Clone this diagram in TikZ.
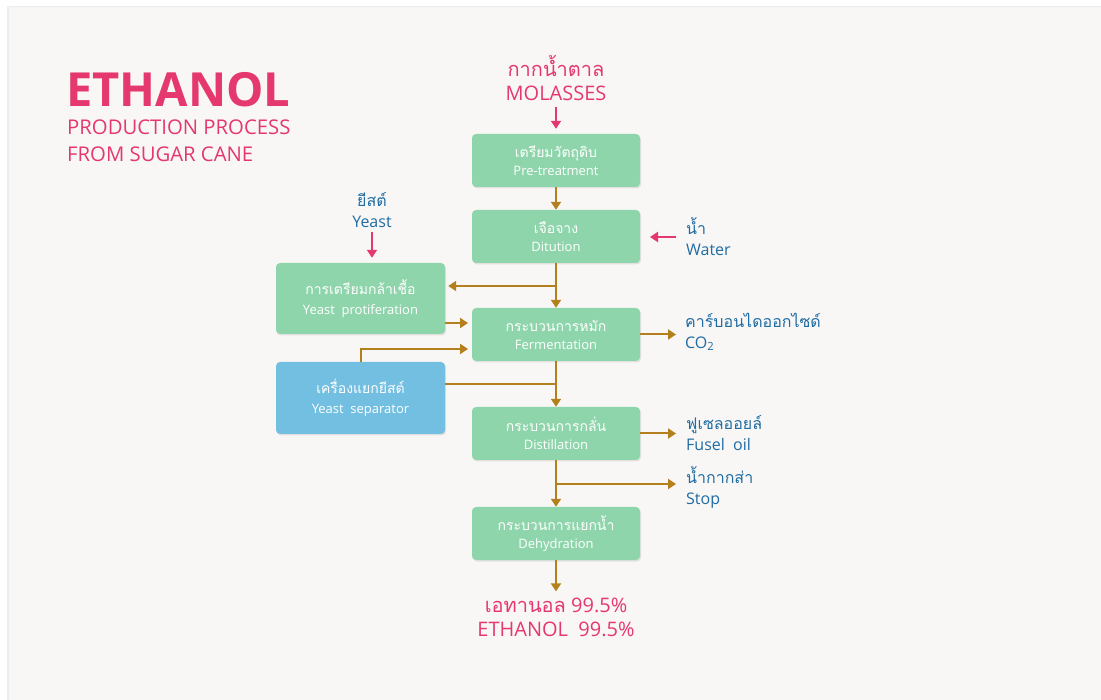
\documentclass[tikz,border=0pt]{standalone}
\usepackage{fontspec}
\setmainfont{Open Sans}
\newfontfamily\thaifont[Script=Thai]{Loma}
\usetikzlibrary{arrows.meta,positioning,shadows}
\definecolor{titlepink}{HTML}{E4386E}
\definecolor{stepgreen}{HTML}{8FD5AC}
\definecolor{sepblue}{HTML}{72BFE2}
\definecolor{flowbrown}{HTML}{B3801D}
\definecolor{sideblue}{HTML}{1F6CA3}
\definecolor{paper}{HTML}{F8F7F6}
\newcommand{\boxthai}[1]{{\thaifont\fontsize{14}{18}\selectfont #1}}

\begin{document}
\begin{tikzpicture}[x=1pt,y=-1pt,
  proc/.style={fill=stepgreen,rounded corners=4pt,minimum width=168pt,minimum height=53pt,
    text=white,align=center,inner sep=2pt,font=\fontsize{13}{18}\selectfont,
    drop shadow={opacity=0.18,shadow xshift=1pt,shadow yshift=-1.5pt}},
  flow/.style={draw=flowbrown,line width=2pt,-{Triangle[length=8pt,width=10pt]}},
  feed/.style={draw=titlepink,line width=2pt,-{Triangle[length=8pt,width=10pt]}},
  side/.style={text=sideblue,align=left,anchor=west,inner sep=0pt,font=\fontsize{16}{21}\selectfont},
  inlet/.style={text=titlepink,align=center,inner sep=0pt,font=\fontsize{20}{24}\selectfont}]
\useasboundingbox (0,0) rectangle (1101,700);
\fill[white] (0,0) rectangle (1101,700);
% sheet with a soft edge
\fill[black!7] (7,6) rectangle (1101,700);
\fill[black!4] (8.5,7.5) rectangle (1101,700);
\fill[paper] (10,9) rectangle (1101,700);

% heading
\node[anchor=base west,inner sep=0pt,text=titlepink,font=\fontsize{47}{50}\selectfont\bfseries] (title) at (66,107) {ETHANOL};
\node[anchor=base west,inner sep=0pt,text=titlepink,font=\fontsize{20.3}{22}\selectfont] (sub1) at (67,135) {PRODUCTION PROCESS};
\node[anchor=base west,inner sep=0pt,text=titlepink,font=\fontsize{20.3}{22}\selectfont] (sub2) at (67,162) {FROM SUGAR CANE};

% main column
\node[proc] (pre) at (556,160.5) {\boxthai{เตรียมวัตถุดิบ}\\Pre-treatment};
\node[proc] (dil) at (556,236.5) {\boxthai{เจือจาง}\\Ditution};
\node[proc] (ferm) at (556,334.5) {\boxthai{กระบวนการหมัก}\\Fermentation};
\node[proc] (dist) at (556,433.5) {\boxthai{กระบวนการกลั่น}\\Distillation};
\node[proc] (deh) at (556,533.5) {\boxthai{กระบวนการแยกน้ำ}\\Dehydration};

% yeast side
\node[proc,minimum width=169pt,minimum height=71pt,font=\fontsize{13}{20}\selectfont] (prop) at (360.5,298.5) {\boxthai{การเตรียมกล้าเชื้อ}\\Yeast\ \ protiferation};
\node[proc,fill=sepblue,minimum width=169pt,minimum height=72pt,font=\fontsize{13}{20}\selectfont] (sep) at (360.5,398) {\boxthai{เครื่องแยกยีสต์}\\Yeast\ \ separator};

% inputs and outputs
\node[inlet] (mol) at (556,78) {{\thaifont กากน้ำตาล}\\MOLASSES};
\node[inlet] (eth) at (556,617) {{\thaifont เอทานอล} 99.5\%\\ETHANOL\ \ 99.5\%};
\node[side,align=center,anchor=center] (yeast) at (372,210) {{\thaifont ยีสต์}\\Yeast};
\node[side] (water) at (686,237) {{\thaifont น้ำ}\\Water};
\node[side] (co2) at (685,332) {{\thaifont คาร์บอนไดออกไซด์}\\CO\textsubscript{2}};
\node[side] (fusel) at (686,433) {{\thaifont ฟูเซลออยล์}\\Fusel\ \ oil};
\node[side] (stop) at (686,487) {{\thaifont น้ำกากส่า}\\Stop};

\coordinate (split1) at (556,286);
\coordinate (inA) at (468,323);
\coordinate (inB) at (468,349);
\coordinate (join) at (556,384);
\coordinate (split2) at (556,484);
\coordinate (wIn) at (650,237);

% feeds
\draw[feed,shorten <=6pt,shorten >=5pt] (mol.south) -- (pre.north);
\draw[feed,shorten <=4pt,shorten >=5pt] (yeast.south) -- (prop.north -| yeast.south);
\draw[feed,shorten <=10pt] (water.west) -- (wIn);

% process flow
\draw[flow] (pre) -- (dil);
\draw[flow] (dil) -- (ferm);
\draw[flow,shorten >=3pt] (split1) -- (prop.east |- split1);
\draw[flow] (prop.east |- inA) -- (inA);
\draw[flow] (sep.north) |- (inB);
\draw[flowbrown,line width=2pt] (sep.east |- join) -- (join);
\draw[flow] (ferm) -- (dist);
\draw[flow,shorten >=9pt] (ferm.east) -- (ferm.east -| co2.west);
\draw[flow,shorten >=10pt] (dist.east) -- (dist.east -| fusel.west);
\draw[flow] (dist) -- (deh);
\draw[flow,shorten >=10pt] (split2) -- (split2 -| stop.west);
\draw[flow,shorten >=6pt] (deh.south) -- (eth.north);
\end{tikzpicture}
\end{document}
